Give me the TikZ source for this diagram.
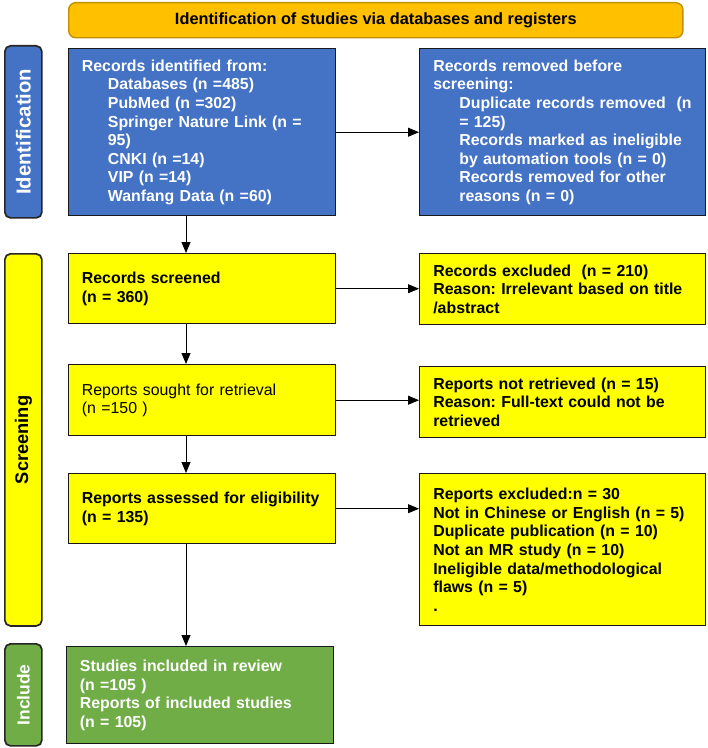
\documentclass[tikz,border=0pt]{standalone}
\usepackage{fontspec}
\setmainfont{Liberation Sans}
\usetikzlibrary{arrows.meta, positioning}
\definecolor{idblue}{RGB}{68, 114, 196}
\definecolor{scryellow}{RGB}{255, 255, 0}
\definecolor{incgreen}{RGB}{112, 173, 71}
\definecolor{headgold}{RGB}{255, 192, 0}
\definecolor{headedge}{RGB}{191, 144, 0}
\newcommand{\ind}{\hspace*{0.65cm}}
\frenchspacing

\begin{document}
\begin{tikzpicture}[x=0.025cm, y=-0.025cm,
    box/.style={rectangle, draw=black!90, line width=1pt, anchor=north west, align=left,
                inner xsep=0.33cm, inner ysep=2pt, font=\bfseries\fontsize{11.3}{13.2}\selectfont},
    lbox/.style={box, minimum width=6.675cm, text width=6.015cm},
    rbox/.style={box, inner xsep=0.34cm, minimum width=7.15cm, text width=6.47cm},
    phase/.style={rectangle, rounded corners=4pt, draw=black!85, line width=1.2pt, anchor=north west,
                  minimum width=0.925cm, inner sep=0pt},
    arr/.style={-{Triangle[length=0.27cm, width=0.22cm]}, line width=0.7pt}]

    \useasboundingbox (0,0) rectangle (708,748);

    % Header
    \node[rectangle, rounded corners=5pt, draw=headedge, line width=1pt, fill=headgold, anchor=north west,
          minimum width=15.35cm, minimum height=0.875cm, font=\bfseries\fontsize{11.6}{13}\selectfont]
          (head) at (68,2) {Identification of studies via databases and registers};

    % Phase bars
    \node[phase, fill=idblue, minimum height=4.3cm, text=white, font=\bfseries\fontsize{14.4}{16}\selectfont]
          (idbar) at (4,45) {\rotatebox{90}{Identification}};
    \node[phase, fill=scryellow, minimum height=9.3cm, font=\bfseries\fontsize{13}{15}\selectfont]
          (scrbar) at (4,253) {\rotatebox{90}{Screening}};
    \node[phase, fill=incgreen, minimum height=2.55cm, text=white, font=\bfseries\fontsize{12.4}{14}\selectfont]
          (incbar) at (4,643) {\rotatebox{90}{Include}};

    % Identification
    \node[lbox, fill=idblue, text=white, minimum height=4.175cm] (ident) at (68,48)
        {Records identified from:\\ \ind Databases (n =485)\\ \ind PubMed (n =302)\\
         \ind Springer Nature Link (n =\\ \ind 95)\\ \ind CNKI (n =14)\\ \ind VIP (n =14)\\
         \ind Wanfang Data (n =60)};
    \node[rbox, fill=idblue, text=white, minimum height=4.175cm] (removed) at (419,48)
        {Records removed before\\ screening:\\ \ind\mbox{Duplicate records removed~~(n}\\ \ind = 125)\\
         \ind Records marked as ineligible\\ \ind by automation tools (n = 0)\\
         \ind Records removed for other\\ \ind reasons (n = 0)};

    % Screening
    \node[lbox, fill=scryellow, minimum height=1.75cm] (screen) at (68,253)
        {Records screened\\ (n = 360)};
    \node[rbox, fill=scryellow, minimum height=1.775cm] (excl) at (419,253)
        {Records excluded~~(n = 210)\\ Reason: Irrelevant based on title\\ /abstract};

    \node[lbox, fill=scryellow, minimum height=1.775cm] (sought) at (68,364)
        {\mdseries Reports sought for retrieval\\ \mdseries (n =150 )};
    \node[rbox, fill=scryellow, minimum height=1.775cm] (notretr) at (419,366)
        {Reports not retrieved (n = 15)\\ Reason: Full-text could not be\\ retrieved};

    \node[lbox, fill=scryellow, minimum height=1.75cm] (assessed) at (68,473)
        {Reports assessed for eligibility\\ (n = 135)};
    \node[rbox, fill=scryellow, minimum height=3.8cm] (repexcl) at (419,473)
        {Reports excluded:n = 30\\ Not in Chinese or English (n = 5)\\ Duplicate publication (n = 10)\\
         Not an MR study (n = 10)\\ Ineligible data/methodological\\ flaws (n = 5)\\ .};

    % Included
    \node[lbox, fill=incgreen, text=white, minimum height=2.425cm] (included) at (66,646)
        {Studies included in review\\ (n =105 )\\ Reports of included studies\\ (n = 105)};

    % Arrows
    \coordinate (col) at (186,0);
    \draw[arr] (ident.south -| col) -- (screen.north -| col);
    \draw[arr] (screen.south -| col) -- (sought.north -| col);
    \draw[arr] (sought.south -| col) -- (assessed.north -| col);
    \draw[arr] (assessed.south -| col) -- (included.north -| col);
    \draw[arr] (ident.east) -- (removed.west);
    \draw[arr] (screen.east) -- (screen.east -| excl.west);
    \draw[arr] (sought.east) -- (sought.east -| notretr.west);
    \draw[arr] (assessed.east) -- (assessed.east -| repexcl.west);
\end{tikzpicture}
\end{document}
